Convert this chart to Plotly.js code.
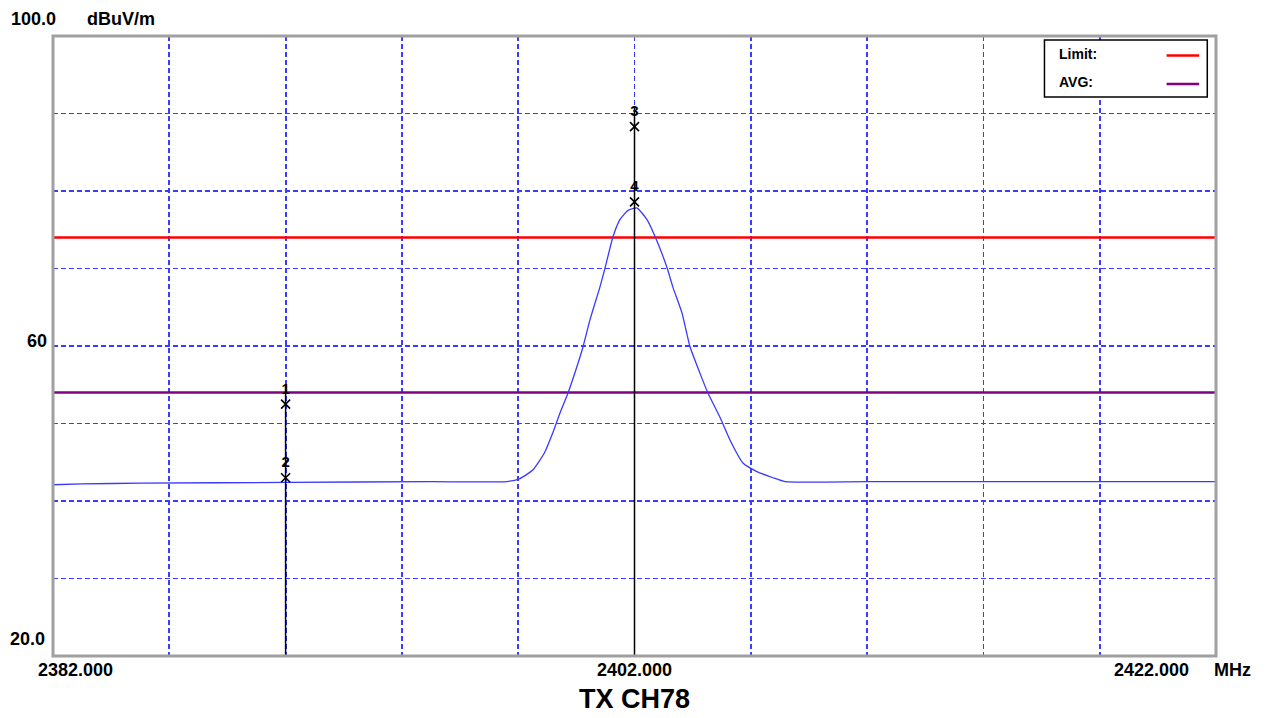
<!DOCTYPE html>
<html>
<head>
<meta charset="utf-8">
<script src="https://cdn.plot.ly/plotly-3.0.1.min.js"></script>
<style>
html,body{margin:0;padding:0;background:#fff;}
#chart{width:1270px;height:718px;}
</style>
</head>
<body>
<div id="chart"></div>
<script>
// ---- data ----
const traceFreq = [2382.0, 2383.0, 2385.0, 2390.0, 2395.0, 2397.6, 2398.06, 2398.5, 2398.9, 2399.2, 2399.44, 2399.71, 2400.06, 2400.23, 2400.47, 2400.81, 2400.99, 2401.26, 2401.50, 2401.78, 2402.09, 2402.43, 2402.71, 2403.12, 2403.32, 2403.63, 2403.91, 2404.25, 2404.53, 2404.94, 2405.28, 2405.73, 2406.21, 2406.76, 2407.18, 2410.0, 2415.0, 2422.0];
const traceLevel = [42.1, 42.2, 42.3, 42.4, 42.5, 42.5, 42.9, 44.0, 46.2, 48.9, 51.4, 53.9, 57.8, 59.9, 63.4, 67.6, 70.1, 74.1, 76.3, 77.5, 77.8, 76.3, 74.1, 70.1, 67.6, 64.3, 59.9, 56.5, 53.9, 50.8, 47.9, 44.9, 43.8, 43.0, 42.5, 42.5, 42.5, 42.5];

const limitLevel = 74.0;
const avgLevel = 54.0;

const markerIds = ['1', '2', '3', '4'];
const markerFreq = [2390.0, 2390.0, 2402.0, 2402.0];
const markerLevel = [52.5, 43.0, 88.3, 78.6];

const xRange = [2382, 2422];
const yRange = [20, 100];
const xTickVals = [2382, 2402, 2422];
const xTickText = ['2382.000', '2402.000', '2422.000'];
const yTickVals = [100, 60, 20];
const yTickText = ['100.0', '60', '20.0'];
const xUnit = 'MHz';
const yUnit = 'dBuV/m';
const chartTitle = 'TX CH78';
const legendNames = ['Limit:', 'AVG:'];
const legendColors = ['#ff0000', '#800080'];

// ---- traces ----
const traces = [];
traces.push({
  x: [xRange[0], xRange[1]], y: [limitLevel, limitLevel], mode: 'lines',
  line: {color: legendColors[0], width: 2.5}, hoverinfo: 'skip', showlegend: false
});
traces.push({
  x: [xRange[0], xRange[1]], y: [avgLevel, avgLevel], mode: 'lines',
  line: {color: legendColors[1], width: 2.5}, hoverinfo: 'skip', showlegend: false
});
traces.push({
  x: traceFreq, y: traceLevel, mode: 'lines',
  line: {color: '#3a3aff', width: 1.3, shape: 'spline', smoothing: 0.5}, showlegend: false
});
const uniqF = [...new Set(markerFreq)];
uniqF.forEach(f => {
  let top = -Infinity;
  markerFreq.forEach((mf, i) => { if (mf === f) top = Math.max(top, markerLevel[i]); });
  traces.push({
    x: [f, f], y: [yRange[0], top + 2.5], mode: 'lines',
    line: {color: '#000000', width: 1.5}, hoverinfo: 'skip', showlegend: false
  });
});
traces.push({
  x: markerFreq, y: markerLevel, mode: 'markers+text',
  marker: {symbol: 'x-thin-open', size: 9, color: '#000', line: {color: '#000', width: 1.6}},
  text: markerIds.map(s => '<b>' + s + '</b>'), textposition: 'top center',
  textfont: {family: 'Liberation Sans, Arial, sans-serif', size: 15, color: '#000'},
  showlegend: false
});

// ---- annotations ----
const tickFont = {family: 'Liberation Sans, Arial, sans-serif', size: 18, color: '#000', weight: 'bold'};
const annotations = [];
xTickVals.forEach((v, i) => {
  const a = {x: v, y: 0, xref: 'x', yref: 'paper', text: xTickText[i], showarrow: false,
    font: tickFont, yanchor: 'top', yshift: -2};
  if (i === 0) { a.xanchor = 'left'; a.xshift = -17; }
  else if (i === xTickVals.length - 1) { a.xanchor = 'right'; a.xshift = -25; }
  else { a.xanchor = 'center'; }
  annotations.push(a);
});
annotations.push({x: 1, y: 0, xref: 'paper', yref: 'paper', text: xUnit, showarrow: false,
  font: tickFont, xanchor: 'left', yanchor: 'top', xshift: -4, yshift: -2});
yTickVals.forEach((v, i) => {
  const a = {x: 0, y: v, xref: 'paper', yref: 'y', text: yTickText[i], showarrow: false,
    font: tickFont, xanchor: 'right'};
  if (i === 0) { a.yanchor = 'bottom'; a.yshift = 5; a.xshift = 5; }
  else if (i === yTickVals.length - 1) { a.yanchor = 'bottom'; a.yshift = 5; a.xshift = -6; }
  else { a.yanchor = 'bottom'; a.yshift = -7; a.xshift = -4; }
  annotations.push(a);
});
annotations.push({x: 0, y: 100, xref: 'paper', yref: 'y', text: yUnit, showarrow: false,
  font: tickFont, xanchor: 'left', yanchor: 'bottom', yshift: 5, xshift: 32});
annotations.push({x: 0.5, y: 0, xref: 'paper', yref: 'paper', text: '<b>' + chartTitle + '</b>',
  showarrow: false, font: {family: 'Liberation Sans, Arial, sans-serif', size: 27, color: '#000'},
  xanchor: 'center', yanchor: 'top', yshift: -26});

// legend box (inside plot, top right)
const shapes = [];
const lgX0 = 0.8525, lgX1 = 0.9925, lgY1 = 0.9935, lgY0 = 0.9015;
shapes.push({type: 'rect', xref: 'paper', yref: 'paper', x0: lgX0, x1: lgX1, y0: lgY0, y1: lgY1,
  line: {color: '#000', width: 1.5}, fillcolor: '#fff', layer: 'above'});
legendNames.forEach((n, i) => {
  const yy = lgY1 - 0.022 - i * 0.046;
  annotations.push({x: lgX0 + 0.011, y: yy, xref: 'paper', yref: 'paper', text: '<b>' + n + '</b>',
    showarrow: false, font: {family: 'Liberation Sans, Arial, sans-serif', size: 14, color: '#000'},
    xanchor: 'left', yanchor: 'middle'});
  shapes.push({type: 'line', xref: 'paper', yref: 'paper', x0: lgX1 - 0.035, x1: lgX1 - 0.007, y0: yy - 0.003, y1: yy - 0.003,
    line: {color: legendColors[i], width: 2.5}, layer: 'above'});
});
// outer frame
shapes.push({type: 'rect', xref: 'paper', yref: 'paper', x0: 0, x1: 1, y0: 0, y1: 1,
  line: {color: '#a0a0a0', width: 3}, layer: 'above'});

const gridStyle = {showgrid: true, gridcolor: '#3c3cff', griddash: '5px,3px', gridwidth: 1.8,
  zeroline: false, showticklabels: false, ticks: '', showline: false, fixedrange: true};
const layout = {
  width: 1270, height: 718,
  margin: {l: 53, r: 54, t: 36, b: 62},
  paper_bgcolor: '#fff', plot_bgcolor: '#fff',
  showlegend: false,
  xaxis: Object.assign({range: xRange, dtick: 4, tick0: 2382}, gridStyle),
  yaxis: Object.assign({range: yRange, dtick: 10, tick0: 20}, gridStyle),
  annotations: annotations,
  shapes: shapes
};

Plotly.newPlot('chart', traces, layout, {displayModeBar: false, staticPlot: true});
</script>
</body>
</html>
